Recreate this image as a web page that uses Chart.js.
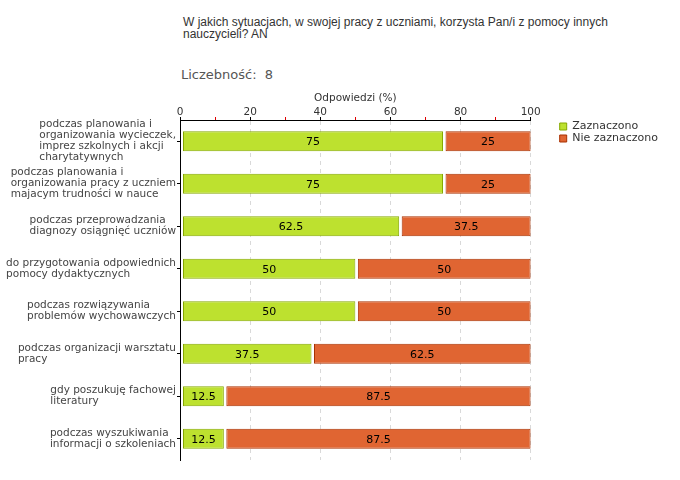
<!DOCTYPE html>
<html>
<head>
<meta charset="utf-8">
<script src="https://cdn.jsdelivr.net/npm/chart.js@4/dist/chart.umd.min.js"></script>
<style>
  body { margin:0; background:#fff; }
  #wrap { position:relative; width:680px; height:480px; }
  #title { position:absolute; left:183px; top:17px; font:12px 'Liberation Sans',sans-serif; line-height:11.5px; color:#333; }
  #count { position:absolute; left:181px; top:67px; font:13px 'DejaVu Sans',sans-serif; color:#555; }
  canvas { position:absolute; left:0; top:0; }
</style>
</head>
<body>
<div id="wrap">
  <div id="title">W jakich sytuacjach, w swojej pracy z uczniami, korzysta Pan/i z pomocy innych<br>nauczycieli? AN</div>
  <div id="count">Liczebność:&nbsp; 8</div>
  <canvas id="chart" width="680" height="480"></canvas>
</div>
<script>
'use strict';

// ---- Données ----
const categories = [
  ['podczas planowania i', 'organizowania wycieczek,', 'imprez szkolnych i akcji', 'charytatywnych'],
  ['podczas planowania i', 'organizowania pracy z uczniem', 'majacym trudności w nauce'],
  ['podczas przeprowadzania', 'diagnozy osiągnięć uczniów'],
  ['do przygotowania odpowiednich', 'pomocy dydaktycznych'],
  ['podczas rozwiązywania', 'problemów wychowawczych'],
  ['podczas organizacji warsztatu', 'pracy'],
  ['gdy poszukuję fachowej', 'literatury'],
  ['podczas wyszukiwania', 'informacji o szkoleniach']
];
const seriesNames = ['Zaznaczono', 'Nie zaznaczono'];
const zaznaczono    = [75, 75, 62.5, 50, 50, 37.5, 12.5, 12.5];
const nieZaznaczono = [25, 25, 37.5, 50, 50, 62.5, 87.5, 87.5];
const axisTitle = 'Odpowiedzi (%)';

const FONT = "'DejaVu Sans',sans-serif";
const LABEL_LH = 11;

// ---- Petit écart entre les segments empilés ----
const barGap = {
  id: 'barGap',
  afterDatasetsUpdate(chart) {
    chart.data.datasets.forEach((ds, i) =>
      chart.getDatasetMeta(i).data.forEach(el => { el.base += 2.5; }));
  }
};

// ---- Valeurs au centre des barres ----
const barLabels = {
  id: 'barLabels',
  afterDatasetsDraw(chart) {
    const ctx = chart.ctx;
    ctx.save();
    ctx.font = '11px ' + FONT; ctx.fillStyle = '#000';
    ctx.textAlign = 'center'; ctx.textBaseline = 'middle';
    chart.data.datasets.forEach((ds, i) =>
      chart.getDatasetMeta(i).data.forEach((el, j) => {
        ctx.fillText(String(ds.data[j]), (el.x + el.base) / 2, el.y + 1);
      }));
    ctx.restore();
  }
};

// ---- Libellés des catégories (bloc aligné à droite, lignes alignées à gauche) ----
const catLabels = {
  id: 'catLabels',
  afterDraw(chart) {
    const s = chart.scales.y, ctx = chart.ctx;
    ctx.save();
    ctx.font = '10.5px ' + FONT; ctx.fillStyle = '#444';
    ctx.textAlign = 'left'; ctx.textBaseline = 'middle';
    categories.forEach((lines, i) => {
      const w = Math.max(...lines.map(l => ctx.measureText(l).width));
      const x = s.right - 4 - w;
      const y0 = s.getPixelForTick(i) - (lines.length - 1) * LABEL_LH / 2;
      lines.forEach((l, k) => ctx.fillText(l, x, y0 + k * LABEL_LH));
    });
    ctx.restore();
  }
};

new Chart(document.getElementById('chart').getContext('2d'), {
  type: 'bar',
  data: {
    labels: categories,
    datasets: [
      { label: seriesNames[0], data: zaznaczono,    backgroundColor: '#bde12f', borderColor: '#86a800' },
      { label: seriesNames[1], data: nieZaznaczono, backgroundColor: '#e06532', borderColor: '#a83000' }
    ]
  },
  options: {
    indexAxis: 'y',
    responsive: false, animation: false,
    layout: { padding: { top: 88, bottom: 20, left: 0, right: 12 } },
    datasets: { bar: { borderWidth: 1, borderSkipped: false, categoryPercentage: 1, barPercentage: 0.47 } },
    plugins: {
      tooltip: { enabled: false },
      legend: {
        position: 'right', align: 'start', fullSize: false,
        labels: { boxWidth: 7, boxHeight: 7, padding: 1, color: '#333',
          font: { family: FONT, size: 11, lineHeight: 1 } }
      }
    },
    scales: {
      x: {
        position: 'top', stacked: true, min: 0, max: 100,
        ticks: { stepSize: 10, autoSkip: false, maxRotation: 0, padding: 1, color: '#333',
          font: { family: FONT, size: 10.5, lineHeight: 0.8 }, callback: v => v % 20 ? '' : v },
        grid: {
          color: c => c.tick && c.tick.value % 20 === 0 && c.tick.value > 0 ? '#d9d9d9' : 'rgba(0,0,0,0)',
          tickColor: c => c.tick && c.tick.value % 20 ? '#e00000' : '#000',
          tickLength: 3
        },
        border: { color: '#000', width: 1, dash: [4, 4] },
        title: { display: true, text: axisTitle, color: '#333', font: { family: FONT, size: 10.5 }, padding: { top: 4, bottom: 0 } },
        afterFit: s => { s.height = 32; }
      },
      y: {
        stacked: true,
        ticks: { display: false },
        grid: { drawOnChartArea: false, offset: false, tickLength: 3, tickColor: '#000' },
        border: { color: '#000', width: 1 },
        afterFit: s => { s.width = 180; }
      },
      gap: {
        axis: 'y', position: 'right', type: 'linear',
        ticks: { display: false }, grid: { display: false }, border: { display: false },
        afterFit: s => { s.width = 28; }
      }
    }
  },
  plugins: [barGap, barLabels, catLabels]
});
</script>
</body>
</html>
